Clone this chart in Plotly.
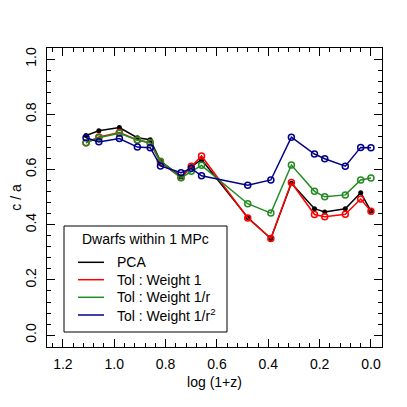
import plotly.graph_objects as go

# log(1+z) of each snapshot, shared by all four curves
log1z = [1.11, 1.06, 0.98, 0.91, 0.86, 0.82, 0.74, 0.70, 0.66,
         0.48, 0.39, 0.31, 0.22, 0.18, 0.10, 0.04, 0.00]

pca = [0.723, 0.740, 0.752, 0.715, 0.708, 0.630, 0.574, 0.610, 0.636,
       0.426, 0.350, 0.550, 0.458, 0.446, 0.458, 0.516, 0.449]
tol_w1 = [0.697, 0.718, 0.734, 0.707, 0.697, 0.625, 0.571, 0.612, 0.649,
          0.424, 0.350, 0.553, 0.437, 0.429, 0.438, 0.493, 0.449]
tol_wr = [0.697, 0.715, 0.731, 0.707, 0.697, 0.630, 0.570, 0.594, 0.615,
          0.476, 0.442, 0.616, 0.521, 0.501, 0.508, 0.562, 0.569]
tol_wr2 = [0.715, 0.700, 0.712, 0.681, 0.679, 0.613, 0.588, 0.604, 0.577,
           0.543, 0.562, 0.717, 0.656, 0.639, 0.612, 0.680, 0.679]

series_names = ["PCA", "Tol : Weight 1", "Tol : Weight 1/r", "Tol : Weight 1/r<sup>2</sup>"]
series_colors = ["#000000", "#FF0000", "#228B22", "#00008B"]
legend_title = "Dwarfs within 1 MPc"

FONT = "Liberation Sans, Arial, Helvetica, sans-serif"

# plot area in page pixels; the page body adds an 8px offset to the figure
OFF = 8
L, R, T, B = 47, 382, 48, 347
XRANGE = [1.262, -0.043]
YRANGE = [-0.043, 1.040]


def px(x):
    return (x - L) / (R - L)


def py(y):
    return (B - y) / (B - T)


fig = go.Figure()

for i, (name, vals) in enumerate(zip(series_names, [pca, tol_w1, tol_wr, tol_wr2])):
    marker = dict(symbol="circle", size=5, color=series_colors[i]) if i == 0 else \
        dict(symbol="circle-open", size=6, color=series_colors[i], line=dict(width=1.5))
    fig.add_trace(go.Scatter(
        x=log1z, y=vals, name=name, mode="lines+markers",
        line=dict(color=series_colors[i], width=1.5),
        marker=marker, showlegend=False,
    ))

# invisible point so the minor-tick overlay axes get drawn
fig.add_trace(go.Scatter(x=log1z[:1], y=pca[:1], xaxis="x2", yaxis="y2",
                         mode="markers", marker=dict(opacity=0),
                         hoverinfo="skip", showlegend=False))

# ─── hand-drawn legend box, like R's legend() ────────────────────────────────
shapes = [dict(type="rect", xref="paper", yref="paper",
               x0=px(64), x1=px(227), y0=py(332), y1=py(226),
               line=dict(color="black", width=1))]
annotations = [dict(text=legend_title, xref="paper", yref="paper",
                    x=px(145.5), y=py(239), xanchor="center", yanchor="middle",
                    showarrow=False, font=dict(size=14, color="black", family=FONT))]
row_y = [262.3, 279.7, 297.3, 315]
for name, col, ry in zip(series_names, series_colors, row_y):
    shapes.append(dict(type="line", xref="paper", yref="paper",
                       x0=px(78), x1=px(104), y0=py(ry), y1=py(ry),
                       line=dict(color=col, width=1.5)))
    annotations.append(dict(text=name, xref="paper", yref="paper",
                            x=px(115), y=py(ry), xanchor="left", yanchor="middle",
                            showarrow=False, font=dict(size=14, color="black", family=FONT)))

axis_common = dict(
    showline=True, linecolor="black", linewidth=1, mirror="allticks",
    ticks="inside", ticklen=8, tickwidth=1, tickcolor="black",
    showgrid=False, zeroline=False, dtick=0.2, tick0=0, tickformat=".1f",
    automargin=False,
    tickfont=dict(size=14, color="black", family=FONT),
)

# short minor ticks every 0.04 on all four sides
minor_common = dict(
    showline=True, linecolor="black", linewidth=1, mirror="ticks",
    ticks="inside", ticklen=4, tickwidth=1, tickcolor="black",
    showgrid=False, zeroline=False, dtick=0.04, tick0=0,
    showticklabels=False, automargin=False,
)

fig.update_layout(
    width=407, height=407,
    margin=dict(l=L - OFF, r=407 - (R - OFF), t=T - OFF, b=407 - (B - OFF), pad=0),
    paper_bgcolor="white", plot_bgcolor="white",
    font=dict(family=FONT, size=14, color="black"),
    showlegend=False,
    shapes=shapes, annotations=annotations,
    xaxis=dict(axis_common, range=XRANGE, ticklabelstandoff=4,
               title=dict(text="log (1+z)", standoff=6, font=dict(size=14))),
    yaxis=dict(axis_common, range=YRANGE, tickangle=-90, ticklabelstandoff=4,
               title=dict(text="c / a", standoff=6, font=dict(size=14))),
    xaxis2=dict(minor_common, range=XRANGE, overlaying="x", anchor="y2", side="bottom"),
    yaxis2=dict(minor_common, range=YRANGE, overlaying="y", anchor="x2", side="left"),
)

fig.write_html("out.html")
